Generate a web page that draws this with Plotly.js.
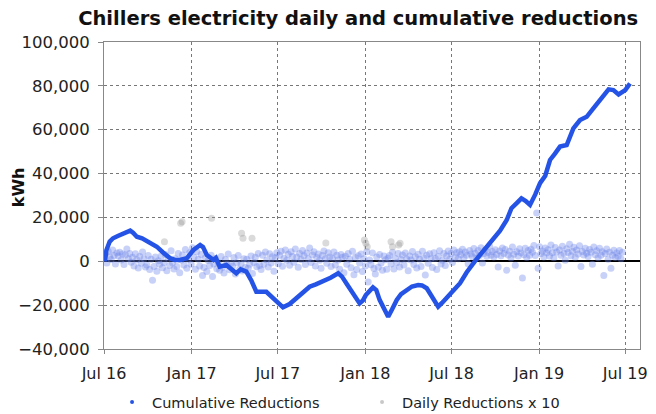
<!DOCTYPE html>
<html>
<head>
<meta charset="utf-8">
<script src="https://cdn.plot.ly/plotly-3.0.1.min.js"></script>
<style>html,body{margin:0;padding:0;background:#fff;}#chart{width:656px;height:414px;}</style>
</head>
<body>
<div id="chart"></div>
<script>
// Cumulative reductions (kWh)
const cumDates = [
'2016-07-03','2016-07-06','2016-07-13','2016-07-20','2016-07-30','2016-08-10','2016-08-20','2016-08-25','2016-08-31','2016-09-08',
'2016-09-19','2016-10-02','2016-10-20','2016-11-02','2016-11-17','2016-11-27','2016-12-08','2016-12-22','2017-01-05','2017-01-19',
'2017-01-25','2017-02-02','2017-02-16','2017-02-21','2017-03-01','2017-03-15','2017-04-05','2017-04-14','2017-04-26','2017-05-07',
'2017-05-17','2017-06-07','2017-06-21','2017-07-12','2017-07-26','2017-08-09','2017-08-23','2017-09-06','2017-09-19','2017-10-04',
'2017-10-20','2017-11-05','2017-11-13','2017-11-22','2017-12-06','2017-12-20','2017-12-27','2018-01-02','2018-01-17','2018-01-24',
'2018-01-31','2018-02-09','2018-02-18','2018-02-26','2018-03-08','2018-03-17','2018-03-29','2018-04-09','2018-04-22','2018-04-30',
'2018-05-10','2018-05-21','2018-06-03','2018-06-11','2018-06-21','2018-07-04','2018-07-19','2018-08-02','2018-08-19','2018-09-07',
'2018-09-27','2018-10-11','2018-10-25','2018-11-04','2018-11-15','2018-11-25','2018-12-04','2018-12-13','2018-12-24','2019-01-03',
'2019-01-14','2019-01-24','2019-02-03','2019-02-14','2019-02-28','2019-03-14','2019-03-28','2019-04-11','2019-04-25','2019-05-09',
'2019-05-18','2019-05-27','2019-06-06','2019-06-17','2019-07-01','2019-07-11'
];
const cumValues = [
0,5000,9000,10500,11500,12800,13600,14000,13000,11200,
10500,8900,6650,4000,1400,600,600,1400,5150,7400,
6500,2900,600,1500,-2450,-1700,-5500,-3700,-4700,-9000,
-13900,-13900,-16900,-21000,-19500,-16900,-14000,-11600,-10500,-9300,
-7500,-5500,-7000,-10000,-14600,-19200,-17800,-15400,-11900,-13100,
-17600,-22000,-25300,-22000,-17600,-15000,-13100,-11500,-10800,-11000,
-12300,-16500,-20700,-19000,-16900,-13500,-10000,-5000,0,4800,
9700,14000,18800,24200,26500,28700,27500,25700,30500,35600,
39000,46200,49000,52300,53000,60600,64400,65900,69700,73500,
76000,78400,78100,76100,78100,81100
];

// Daily reductions x 10 (kWh), one reading every 3 days from dailyStart
const dailyStart = '2016-07-01';
const dailyStepDays = 3;
const dailyValues = [
1500,3200,-800,4500,2100,800,5200,2600,-1200,3800,
2400,4100,600,3300,-1500,2900,5600,1200,3600,-400,
1800,-2200,3400,700,-3100,2200,-900,4200,1100,-2600,
-1700,2600,-3800,900,-8700,-2400,1900,-4600,300,-1300,
2300,-2900,-600,3100,-4300,1400,-1900,4800,-700,-3500,
1200,-2400,3600,-5200,600,2900,-1700,5400,-3200,800,
3900,-1400,6200,1800,-3600,4400,900,-2200,3100,-6500,
-2800,1600,-4700,400,-1900,2700,-6900,-1200,1300,-3400,
-600,-4100,2200,-2700,-5300,800,-1600,3300,-3900,-900,
-2300,1700,-5800,-700,2600,-3600,-1100,-4400,1200,-2800,
900,-3200,-1400,2400,-5600,-600,1800,-2500,3600,-1900,
-3700,2800,-1300,4200,600,-2600,3400,-800,2100,-4500,
1600,3900,-1100,2800,4600,-2300,1300,5100,500,3200,
-1800,4300,2200,-400,5600,1900,-2700,3600,800,4900,
2500,-1500,3800,1200,6100,-600,2900,4400,-2100,1700,
3300,500,-3200,2600,4700,1100,-900,3900,2000,-2400,
1400,4200,-1700,2700,600,-3600,3100,1800,-5200,2300,
-1300,3500,900,-2900,4600,-6100,1700,-3800,2500,-800,
3300,-4700,1100,-2200,4300,-9400,600,-1600,3800,-3300,
-5800,1900,-2700,3100,-800,-4100,2400,700,-3600,1500,
2600,-1200,4100,-3500,1300,-700,3600,-2600,800,2900,
-1700,3800,1000,-4300,2400,600,4500,-1500,2100,-3100,
3200,900,-2400,4600,1500,-6200,2700,-900,3400,1100,
-2800,3900,1300,-3700,2200,4800,-1200,500,3600,-1900,
2400,4700,900,3500,-600,5100,2000,3900,1200,4400,
3000,5500,1600,4200,2700,-1100,4900,3300,2100,5800,
3700,1400,4900,2600,6200,-800,3500,5100,2300,4000,
6800,2800,4500,1900,5300,3100,-2600,4700,2500,6100,
3600,5400,-4100,2900,4600,1500,6500,3200,-1800,4300,
2400,5700,3800,-7600,3000,6000,1700,4900,2800,5500,
4100,7200,2600,22000,-3200,6600,3500,4700,1900,6100,
3800,5300,2400,7400,3900,1600,6300,4200,-2100,5100,
2800,6900,3600,500,5700,4000,7800,2500,4600,6400,
1800,5200,3300,7100,-2400,4500,2900,6000,3700,2200,
5400,4100,-1300,6500,3000,4800,1600,5900,2700,4300,
-6500,3500,5600,900,4100,-3200,2800,5000,1700,3800,
2300,4900,1200,4100
];

// Grey daily points (outliers drawn in grey in the original)
const greyDates = ['2016-11-05','2016-12-09','2016-12-12','2017-02-12','2017-04-16','2017-04-19','2017-05-08','2017-10-10','2017-12-30','2018-01-02','2018-01-05','2018-02-24','2018-02-27','2018-03-12','2018-03-15'];
const greyValues = [8900,17300,18000,19600,12800,10500,10500,8300,9700,8200,6650,8900,6650,7400,8200];

const seriesNames = ['Cumulative Reductions','Daily Reductions x 10'];
const yTitle = 'kWh';

function addDays(s, n){ const d = new Date(s + 'T00:00:00Z'); d.setUTCDate(d.getUTCDate() + n); return d.toISOString().slice(0,10); }
const dailyDates = dailyValues.map((v,i) => addDays(dailyStart, i*dailyStepDays));

const blue = '#2453e6';
const dailyCol = 'rgba(110,135,235,0.38)';
const greyCol = 'rgba(150,150,150,0.35)';
const font = 'DejaVu Sans, Verdana, sans-serif';

const traces = [
  {x: dailyDates, y: dailyValues, type:'scatter', mode:'markers', showlegend:false,
   marker:{size:7, color:dailyCol}, hoverinfo:'skip'},
  {x: greyDates, y: greyValues, type:'scatter', mode:'markers', showlegend:false,
   marker:{size:7, color:greyCol}, hoverinfo:'skip'},
  {x: cumDates, y: cumValues, type:'scatter', mode:'lines', showlegend:false,
   line:{color:blue, width:4.5}},
  {x:[null], y:[null], type:'scatter', mode:'markers', name: seriesNames[0],
   marker:{size:4, color:blue}},
  {x:[null], y:[null], type:'scatter', mode:'markers', name: seriesNames[1],
   marker:{size:4, color:'#c8c8c8'}}
];

const layout = {
  width:656, height:414,
  margin:{l:104, r:16, t:42, b:65, autoexpand:false},
  paper_bgcolor:'#fff', plot_bgcolor:'#fff',
  font:{family:font, size:16, color:'#222'},
  title:{text:'<b>Chillers electricity daily and cumulative reductions</b>',
    font:{family:font, size:19.5, color:'#111'}, x:0.546, xanchor:'center', y:0.957, yanchor:'middle', yref:'container'},
  xaxis:{type:'date', range:['2016-07-01','2019-08-01'], tick0:'2016-07-01', dtick:'M6', tickformat:'%b %y',
    showgrid:true, gridcolor:'#777', griddash:'dot', gridwidth:1,
    showline:true, linecolor:'#888', linewidth:1, mirror:true, automargin:false,
    ticks:'outside', ticklen:4, tickcolor:'#888', zeroline:false, ticklabelstandoff:6,
    tickfont:{family:font, size:16, color:'#222'}},
  yaxis:{range:[-40000,100000], dtick:20000, tickformat:',d',
    showgrid:true, gridcolor:'#777', griddash:'dot', gridwidth:1,
    showline:true, linecolor:'#888', linewidth:1, mirror:true, automargin:false,
    ticks:'outside', ticklen:5, tickcolor:'#888', ticklabelstandoff:5,
    zeroline:true, zerolinecolor:'#000', zerolinewidth:2,
    tickfont:{family:font, size:16.5, color:'#222'}},
  annotations:[{text:'<b>' + yTitle + '</b>', xref:'paper', yref:'paper', x:-0.158, y:0.528,
    xanchor:'center', yanchor:'middle', textangle:-90, showarrow:false,
    font:{family:font, size:16, color:'#111'}}],
  legend:{orientation:'h', x:0.015, xanchor:'left', y:-0.173, yanchor:'middle',
    font:{family:font, size:14.5, color:'#222'}, entrywidth:205, entrywidthmode:'pixels', bgcolor:'rgba(0,0,0,0)'},
  showlegend:true
};

Plotly.newPlot('chart', traces, layout, {displayModeBar:false, staticPlot:true});
</script>
</body>
</html>
